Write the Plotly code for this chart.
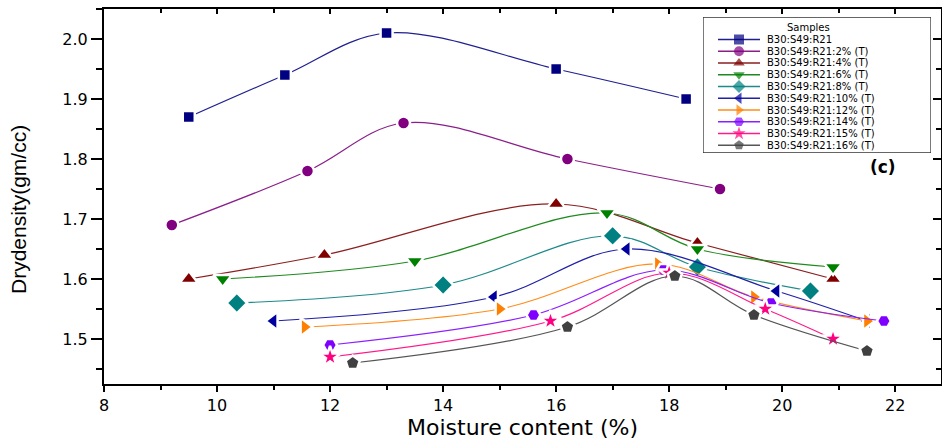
import plotly.graph_objects as go

# ---------------- data ----------------
series_names = [
    "B30:S49:R21", "B30:S49:R21:2% (T)", "B30:S49:R21:4% (T)", "B30:S49:R21:6% (T)",
    "B30:S49:R21:8% (T)", "B30:S49:R21:10% (T)", "B30:S49:R21:12% (T)",
    "B30:S49:R21:14% (T)", "B30:S49:R21:15% (T)", "B30:S49:R21:16% (T)",
]

mc_0 = [9.5, 11.2, 13.0, 16.0, 18.3]
dd_0 = [1.87, 1.94, 2.01, 1.95, 1.90]
mc_2 = [9.2, 11.6, 13.3, 16.2, 18.9]
dd_2 = [1.69, 1.78, 1.86, 1.80, 1.75]
mc_4 = [9.5, 11.9, 16.0, 18.5, 20.9]
dd_4 = [1.60, 1.64, 1.725, 1.66, 1.60]
mc_6 = [10.1, 13.5, 16.9, 18.5, 20.9]
dd_6 = [1.60, 1.63, 1.71, 1.65, 1.62]
mc_8 = [10.35, 14.0, 17.0, 18.5, 20.5]
dd_8 = [1.56, 1.59, 1.672, 1.62, 1.58]
mc_10 = [11.0, 14.9, 17.25, 19.9, 21.5]
dd_10 = [1.53, 1.57, 1.65, 1.58, 1.53]
mc_12 = [11.55, 15.0, 17.8, 19.5, 21.5]
dd_12 = [1.52, 1.55, 1.625, 1.57, 1.53]
mc_14 = [12.0, 15.6, 17.9, 19.8, 21.8]
dd_14 = [1.49, 1.54, 1.615, 1.56, 1.53]
mc_15 = [12.0, 15.9, 18.0, 19.7, 20.9]
dd_15 = [1.47, 1.53, 1.61, 1.55, 1.50]
mc_16 = [12.4, 16.2, 18.1, 19.5, 21.5]
dd_16 = [1.46, 1.52, 1.605, 1.54, 1.48]

x_ticks = [8, 10, 12, 14, 16, 18, 20, 22]
y_ticks = [1.5, 1.6, 1.7, 1.8, 1.9, 2.0]
y_tick_text = ["1.5", "1.6", "1.7", "1.8", "1.9", "2.0"]

# ---------------- styles ----------------
xs = [mc_0, mc_2, mc_4, mc_6, mc_8, mc_10, mc_12, mc_14, mc_15, mc_16]
ys = [dd_0, dd_2, dd_4, dd_6, dd_8, dd_10, dd_12, dd_14, dd_15, dd_16]
marker_colors = ["#000080", "#800080", "#800000", "#008000", "#008080",
                 "#0000A0", "#FF8000", "#8000FF", "#FF0080", "#404040"]
line_colors = ["#1f1f90", "#8a1f8a", "#8a1f1f", "#1f8a1f", "#1f8a8a",
               "#1f1fa8", "#FF8C1A", "#8a1fff", "#FF1a8c", "#555555"]
symbols = ["square", "circle", "triangle-up", "triangle-down", "diamond",
           "triangle-left", "triangle-right", "hexagon2", "star", "pentagon"]
sizes = [12, 13, 16, 16, 16, 16, 16, 14, 16, 15]

FONT = "DejaVu Sans"
fig = go.Figure()

for i in range(len(series_names)):
    fig.add_trace(go.Scatter(
        x=xs[i], y=ys[i], mode="lines+markers", name=series_names[i],
        line=dict(color=line_colors[i], width=1.2, shape="spline", smoothing=1.0),
        marker=dict(symbol=symbols[i], size=sizes[i], color=marker_colors[i],
                    line=dict(color="white", width=2.5)),
        showlegend=False,
    ))

# ---------------- hand-built compact legend (pixel-like axis) ----------------
LEG_L, LEG_R, LEG_T, LEG_B = 703, 931, 17, 153
PLOT_L, PLOT_R, PLOT_T, PLOT_B = 104, 941, 9, 384
pw, ph = PLOT_R - PLOT_L, PLOT_B - PLOT_T
row0, drow = 39.5, 11.75
for i, name in enumerate(series_names):
    ry = row0 + i * drow
    fig.add_trace(go.Scatter(
        x=[718, 739, 760], y=[ry, ry, ry], mode="lines+markers",
        line=dict(color=line_colors[i], width=1.6),
        marker=dict(symbol=symbols[i], size=[0, 10, 0], color=marker_colors[i],
                    line=dict(width=0)),
        xaxis="x3", yaxis="y3", showlegend=False, hoverinfo="skip",
    ))
    fig.add_annotation(x=765, y=ry, xref="x3", yref="y3", text=name,
                       showarrow=False, xanchor="left", yanchor="middle",
                       font=dict(family=FONT, size=10, color="black"))
fig.add_annotation(x=808, y=27.5, xref="x3", yref="y3", text="Samples",
                   showarrow=False, xanchor="center", yanchor="middle",
                   font=dict(family=FONT, size=10, color="black"))
fig.add_shape(type="rect", xref="x3", yref="y3", x0=LEG_L, x1=LEG_R, y0=LEG_T, y1=LEG_B,
              line=dict(color="#333333", width=1.3), fillcolor="rgba(0,0,0,0)")

# panel label
fig.add_annotation(x=21.78, y=1.787, xref="x", yref="y", text="<b>(c)</b>",
                   showarrow=False, font=dict(family=FONT, size=17, color="black"))

# y-axis title as annotation
fig.add_annotation(x=(18 - PLOT_L) / pw, y=(PLOT_B - 210) / ph, xref="paper", yref="paper",
                   text="Drydensity(gm/cc)", textangle=-90, showarrow=False,
                   xanchor="center", yanchor="middle",
                   font=dict(family="Liberation Sans", size=21, color="black"))

axis_common = dict(showgrid=False, zeroline=False, showline=True, linecolor="black",
                   linewidth=2, tickcolor="black", tickwidth=1.5)

fig.update_layout(
    width=942, height=440,
    margin=dict(l=PLOT_L, r=942 - PLOT_R, t=PLOT_T, b=440 - PLOT_B, autoexpand=False),
    paper_bgcolor="white", plot_bgcolor="white",
    xaxis=dict(range=[8, 22.81], tickvals=x_ticks, ticks="outside", ticklen=6,
               minor=dict(dtick=1, ticks="outside", ticklen=4, tickcolor="black", tickwidth=1.5),
               tickfont=dict(family=FONT, size=16, color="black"),
               title=dict(text="Moisture content (%)", standoff=1,
                          font=dict(family=FONT, size=22, color="black")),
               **axis_common),
    yaxis=dict(range=[1.425, 2.05], tickvals=y_ticks, ticktext=y_tick_text,
               ticks="outside", ticklen=11,
               minor=dict(dtick=0.05, tick0=1.45, ticks="outside", ticklen=6,
                          tickcolor="black", tickwidth=1.5),
               tickfont=dict(family=FONT, size=16, color="black"),
               **axis_common),
    xaxis2=dict(overlaying="x", matches="x", side="top", ticks="inside", ticklen=5,
                tickvals=x_ticks, showticklabels=False,
                minor=dict(dtick=1, ticks="inside", ticklen=4, tickcolor="black", tickwidth=1.5),
                **axis_common),
    yaxis2=dict(overlaying="y", matches="y", side="right", ticks="inside", ticklen=8,
                tickvals=y_ticks, showticklabels=False,
                minor=dict(dtick=0.05, tick0=1.45, ticks="inside", ticklen=5,
                           tickcolor="black", tickwidth=1.5),
                **axis_common),
    xaxis3=dict(domain=[(LEG_L - PLOT_L) / pw, (LEG_R - PLOT_L) / pw], range=[LEG_L, LEG_R],
                visible=False, anchor="y3", fixedrange=True),
    yaxis3=dict(domain=[(PLOT_B - LEG_B) / ph, (PLOT_B - LEG_T) / ph], range=[LEG_B, LEG_T],
                visible=False, anchor="x3", fixedrange=True),
    showlegend=False,
)

# dummy trace so the overlay axes render
fig.add_trace(go.Scatter(x=[None], y=[None], xaxis="x2", yaxis="y2", showlegend=False))

fig.write_html("out.html", config={"displayModeBar": False},
               post_script="document.body.style.margin='0px';document.body.style.overflow='hidden';")
